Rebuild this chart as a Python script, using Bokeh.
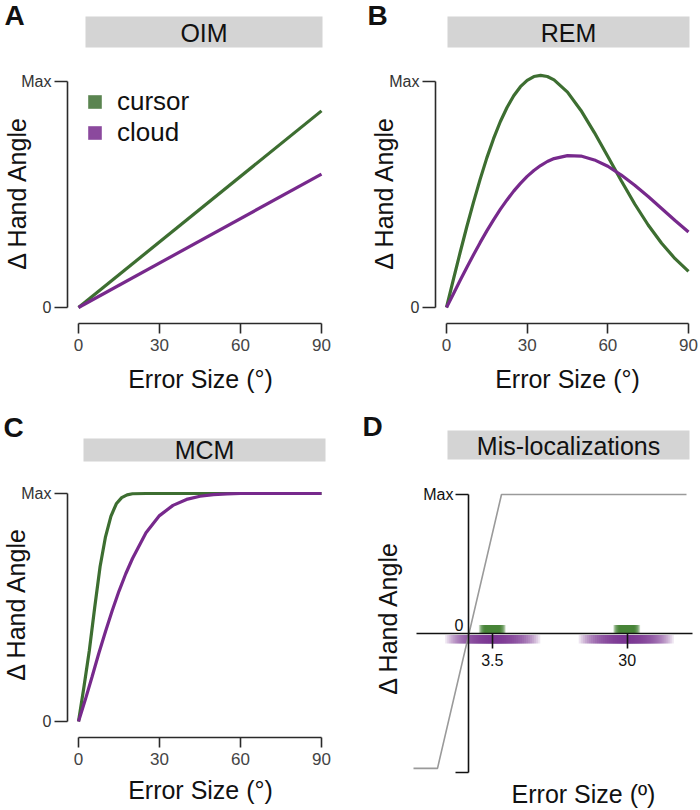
import math
from bokeh.plotting import figure
from bokeh.models import (LinearAxis, FixedTicker, Range1d, Label, BoxAnnotation,
                          Legend, LegendItem)
from bokeh.layouts import column, row
from bokeh.embed import file_html
from bokeh.resources import INLINE

# ---------------- data ----------------
series_names = ["cursor", "cloud"]
panel_titles = ["OIM", "REM", "MCM", "Mis-localizations"]
panel_letters = ["A", "B", "C", "D"]

x_ticks = [0, 30, 60, 90]
y_ticks = [0, 1]
y_tick_labels = ["0", "Max"]

# A: OIM (linear)
oim_error = [0, 90]
oim_cursor = [0.0, 0.87]
oim_cloud = [0.0, 0.59]

# B: REM
rem_error = [0, 2.5, 5, 7.5, 10, 12.5, 15, 17.5, 20, 22.5, 25, 27.5, 30, 32.5, 35, 37.5,
             40, 45, 50, 55, 60, 65, 70, 75, 80, 85, 90]
rem_cursor = [0.0, 0.121, 0.240, 0.355, 0.464, 0.567, 0.662, 0.747, 0.822, 0.885, 0.937,
              0.977, 1.005, 1.022, 1.027, 1.022, 1.007, 0.953, 0.872, 0.774, 0.668,
              0.561, 0.458, 0.365, 0.284, 0.216, 0.160]
rem_cloud = [0.0, 0.059, 0.118, 0.176, 0.232, 0.287, 0.339, 0.388, 0.434, 0.476, 0.515,
             0.549, 0.580, 0.606, 0.628, 0.646, 0.659, 0.672, 0.670, 0.653, 0.625,
             0.586, 0.541, 0.491, 0.438, 0.385, 0.334]

# C: MCM
mcm_cursor_error = [0, 2, 4, 6, 8, 10, 12, 14, 16, 18, 20, 25, 30, 90]
mcm_cursor = [0.0, 0.15, 0.31, 0.50, 0.68, 0.81, 0.90, 0.955, 0.982, 0.994, 0.999, 1.0, 1.0, 1.0]
mcm_cloud_error = [0, 2.5, 5, 7.5, 10, 12.5, 15, 17.5, 20, 25, 30, 35, 40, 45, 50, 55, 60, 90]
mcm_cloud = [0.0, 0.095, 0.195, 0.298, 0.395, 0.487, 0.572, 0.648, 0.715, 0.828, 0.903,
             0.948, 0.974, 0.988, 0.995, 0.998, 1.0, 1.0]

# D: Mis-localizations (schematic axis units)
misloc_resp_x = [-2.2, -1.24, 1.32, 8.72]
misloc_resp_y = [-0.97, -0.97, 1.0, 1.0]
misloc_tick_pos = [0.95, 6.35]
misloc_tick_labels = ["3.5", "30"]
misloc_y_ticks = [-1, 1]
misloc_y_labels = ["", "Max"]
misloc_cursor_center = [0.95, 6.33]
misloc_cloud_center = [0.97, 6.31]
misloc_cursor_spread = 0.54
misloc_cloud_spread = 1.9

# ---------------- styles ----------------
FONT = "Liberation Sans"
GREEN = "#3d6e31"
PURPLE = "#77298c"
AXC = "#2a2a2a"
STRIP = "#d4d4d4"
TITLE_PX = 25


def make_panel(fig_x, fig_y, w, h, xmap, ymap):
    """Figure whose plot frame fills the whole canvas; mapping given in page pixels."""
    px0, v0, px1, v1 = xmap
    kx = (px1 - px0) / (v1 - v0)
    py0, u0, py1, u1 = ymap
    ky = (py1 - py0) / (u1 - u0)
    X = lambda px: v0 + (px - px0) / kx
    Y = lambda py: u0 + (py - py0) / ky
    p = figure(width=w, height=h, title=None,
               x_range=Range1d(X(fig_x), X(fig_x + w)), y_range=Range1d(Y(fig_y + h), Y(fig_y)),
               x_axis_type=None, y_axis_type=None, tools="", toolbar_location=None,
               output_backend="svg", min_border=0,
               outline_line_color=None, background_fill_color="white",
               border_fill_color="white")
    return p, X, Y


def txt(p, x, y, s, size, bold=False, angle=0.0, align="center", color="#111111"):
    p.add_layout(Label(x=x, y=y, text=s, text_font=FONT, text_font_size=f"{size}px",
                       text_font_style="bold" if bold else "normal",
                       text_align=align, text_baseline="middle", angle=angle,
                       text_color=color))


def decorate(p, X, Y, letter, letter_xy, strip_box, title, title_xy, ytitle_xy, xtitle_xy, xtitle):
    txt(p, X(letter_xy[0]), Y(letter_xy[1]), letter, 28, bold=True)
    l, r, t, b = strip_box
    p.add_layout(BoxAnnotation(left=X(l), right=X(r), top=Y(t), bottom=Y(b),
                               fill_color=STRIP, fill_alpha=1.0, line_color=None,
                               level="underlay"))
    txt(p, X(title_xy[0]), Y(title_xy[1]), title, TITLE_PX)
    txt(p, X(ytitle_xy[0]), Y(ytitle_xy[1]), "Δ Hand Angle", TITLE_PX, angle=math.pi / 2)
    txt(p, X(xtitle_xy[0]), Y(xtitle_xy[1]), xtitle, TITLE_PX)


def axis(**kw):
    base = dict(axis_line_width=1.6, major_tick_line_width=1.6, major_tick_in=0,
                minor_tick_line_color=None, major_label_text_font=FONT,
                major_label_text_font_size="16px")
    base.update(kw)
    return LinearAxis(**base)


def std_axes(p, X, Y, x_axis_px, y_axis_px):
    xa = axis(fixed_location=Y(x_axis_px), ticker=FixedTicker(ticks=x_ticks), bounds=(0, 90),
              axis_line_color=AXC, major_tick_line_color=AXC, major_tick_out=10,
              major_label_text_font_size="17px",
              major_label_text_color="#444444", major_label_standoff=5)
    p.add_layout(xa, "below")
    ya = axis(fixed_location=X(y_axis_px), ticker=FixedTicker(ticks=y_ticks), bounds=(0, 1),
              major_label_overrides=dict(zip(y_ticks, y_tick_labels)),
              axis_line_color=AXC, major_tick_line_color=AXC, major_tick_out=13,
              major_label_text_color="#333333", major_label_standoff=3)
    p.add_layout(ya, "left")


XT = "Error Size (°)"

# ---------------- Panel A ----------------
pA, XA, YA = make_panel(0, 0, 350, 405, (78, 0, 321, 90), (307, 0, 81, 1))
std_axes(pA, XA, YA, 323, 67)
pA.line(oim_error, oim_cursor, line_color=GREEN, line_width=3.2)
pA.line(oim_error, oim_cloud, line_color=PURPLE, line_width=3.2)
decorate(pA, XA, YA, panel_letters[0], (14, 15), (85, 322, 16, 47), panel_titles[0],
         (203.5, 32), (16, 192), (200, 378), XT)
# legend key proxies (zero-area, invisible in the plot)
leg_c = pA.quad(left=[0], right=[0], top=[0], bottom=[0], fill_color=GREEN, fill_alpha=0.85,
                line_color=None)
leg_p = pA.quad(left=[0], right=[0], top=[0], bottom=[0], fill_color=PURPLE, fill_alpha=0.85,
                line_color=None)
legend = Legend(items=[LegendItem(label=series_names[0], renderers=[leg_c]),
                       LegendItem(label=series_names[1], renderers=[leg_p])],
                location=(86, 405 - 148), orientation="vertical", padding=0, margin=0,
                spacing=-7, glyph_width=17, glyph_height=17, label_standoff=14,
                label_text_font=FONT, label_text_font_size="26px",
                label_text_color="#111111", border_line_color=None,
                background_fill_alpha=0.0, label_height=17)
pA.add_layout(legend)

# ---------------- Panel B ----------------
pB, XB, YB = make_panel(350, 0, 348, 405, (446, 0, 688, 90), (307, 0, 81, 1))
std_axes(pB, XB, YB, 323, 435)
pB.line(rem_error, rem_cursor, line_color=GREEN, line_width=3.2)
pB.line(rem_error, rem_cloud, line_color=PURPLE, line_width=3.2)
decorate(pB, XB, YB, panel_letters[1], (377, 15), (447, 689, 16, 47), panel_titles[1],
         (568, 32), (383, 192), (567, 378), XT)

# ---------------- Panel C ----------------
pC, XC, YC = make_panel(0, 405, 350, 403, (78, 0, 321, 90), (721, 0, 493, 1))
std_axes(pC, XC, YC, 737, 67)
pC.line(mcm_cursor_error, mcm_cursor, line_color=GREEN, line_width=3.2)
pC.line(mcm_cloud_error, mcm_cloud, line_color=PURPLE, line_width=3.2)
decorate(pC, XC, YC, panel_letters[2], (13, 427), (83, 325, 438, 461), panel_titles[2],
         (204, 449.5), (15, 603), (200, 789), XT)

# ---------------- Panel D ----------------
pD, XD, YD = make_panel(350, 405, 348, 403, (468, 0, 493, 1), (633, 0, 494, 1))


def soft_bars(p, centers, half, y_lo, y_hi, color, core, k=22):
    a = 1 - 0.05 ** (1.0 / k)
    L, R, T, B = [], [], [], []
    for c in centers:
        for m in range(k):
            hw = half * (core + (1 - core) * (1 - m / (k - 1)))
            L.append(c - hw); R.append(c + hw); T.append(y_hi); B.append(y_lo)
    p.quad(left=L, right=R, top=T, bottom=B, fill_color=color, fill_alpha=a, line_color=None)


soft_bars(pD, misloc_cloud_center, misloc_cloud_spread, YD(643), YD(634.6), "#7a2f93", 0.1)
soft_bars(pD, misloc_cursor_center, misloc_cursor_spread, YD(632.4), YD(624.5), "#3f7f33", 0.5)
pD.line(misloc_resp_x, misloc_resp_y, line_color="#9a9a9a", line_width=1.6)

yaD = axis(fixed_location=0, ticker=FixedTicker(ticks=misloc_y_ticks), bounds=(-1, 1),
           major_label_overrides=dict(zip(misloc_y_ticks, misloc_y_labels)),
           axis_line_color="#111111", major_tick_line_color="#111111",
           major_tick_out=13, major_label_text_color="#111111", major_label_standoff=2)
pD.add_layout(yaD, "left")
xaD = axis(fixed_location=0, ticker=FixedTicker(ticks=misloc_tick_pos),
           bounds=(XD(416), XD(692)),
           major_label_overrides=dict(zip(misloc_tick_pos, misloc_tick_labels)),
           axis_line_color="#111111", major_tick_line_color="#111111",
           major_tick_out=15, major_label_text_color="#111111", major_label_standoff=5)
pD.add_layout(xaD, "below")
txt(pD, XD(463), YD(624), "0", 16, align="right")
decorate(pD, XD, YD, panel_letters[3], (372, 426), (447, 689, 430, 459), panel_titles[3],
         (568, 445), (387, 617), (583, 793), "Error Size (º)")

layout = column(row(pA, pB), row(pC, pD))
open("out.html", "w").write(file_html(layout, INLINE))
